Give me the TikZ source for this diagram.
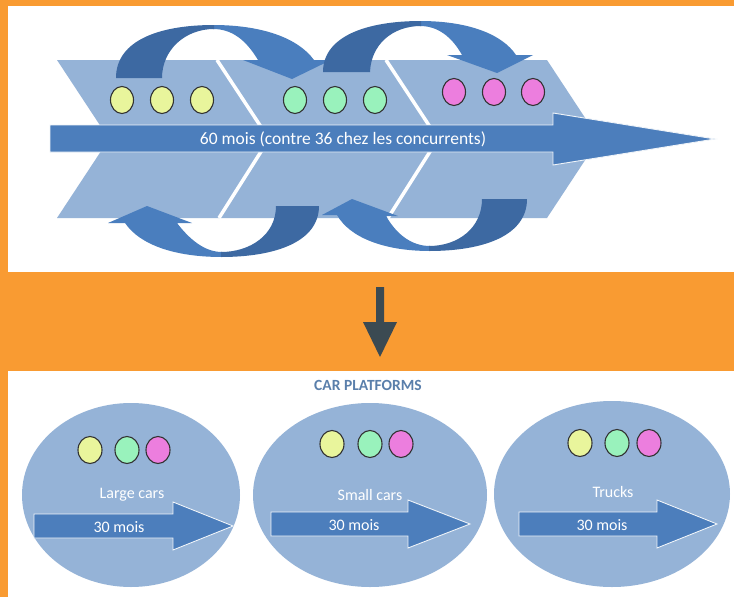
\documentclass[tikz,border=0pt]{standalone}
\usepackage{fontspec}
\setmainfont{Carlito}
\usetikzlibrary{shapes.geometric}

\definecolor{orangebg}{HTML}{F99B32}
\definecolor{chev}{HTML}{95B3D7}
\definecolor{bandlight}{HTML}{4A7EBE}
\definecolor{banddark}{HTML}{3D69A2}
\definecolor{arrowblue}{HTML}{4C7EBC}
\definecolor{dotyellow}{HTML}{E9F59C}
\definecolor{dotgreen}{HTML}{99F2BC}
\definecolor{dotpink}{HTML}{EC7EDE}
\definecolor{titleblue}{HTML}{5A7FAB}
\definecolor{downgray}{HTML}{3B4A52}

\tikzset{
  panel/.style={fill=white, draw=none},
  chevfill/.style={fill=chev, draw=none},
  sepline/.style={draw=white, line width=3.5pt},
  darkband/.style={fill=banddark, draw=none},
  lightband/.style={fill=bandlight, draw=none},
  flatarrow/.style={fill=arrowblue, draw=white!85!chev, line width=0.9pt, line join=miter},
  dot/.style={ellipse, draw=black!80, line width=1.1pt, inner sep=0pt,
              minimum width=23pt, minimum height=27pt},
  platform/.style={ellipse, fill=chev, draw=none, inner sep=0pt},
  whitetext/.style={text=white, font=\fontsize{16}{18}\selectfont, inner sep=0pt},
}

\begin{document}
\begin{tikzpicture}[x=1pt, y=-1pt]
  \useasboundingbox (0,0) rectangle (734,597);
  \fill[orangebg] (0,0) rectangle (734,597);

  % panels
  \fill[panel] (8,6) rectangle (734,272);
  \fill[panel] (8,371) rectangle (734,597);

  % ---------- top: chevron process ----------
  \fill[chevfill] (57,60) -- (547,60) -- (599,139) -- (547,218) -- (57,218) -- (109,139) -- cycle;
  \draw[sepline] (217,60) -- (269,139) -- (219,218);
  \draw[sepline] (386,60) -- (438,139) -- (388,218);

  % curved arrow, upper left
  \fill[lightband] (213,25) .. controls (262,25) and (298,38) .. (314,60)
     -- (331,60) -- (292,79) -- (243,60) -- (258,60)
     .. controls (246,40) and (232,29) .. (213,29) -- cycle;
  \fill[darkband] (116,78) .. controls (116,40) and (160,25) .. (214,25)
     -- (214,29) .. controls (185,29) and (162,50) .. (162,78) -- cycle;

  % curved arrow, upper right
  \fill[lightband] (420,21) .. controls (468,21) and (502,34) .. (516,55)
     -- (533,55) -- (497,73) -- (447,55) -- (462,55)
     .. controls (452,37) and (438,26) .. (420,26) -- cycle;
  \fill[darkband] (323,72) .. controls (323,36) and (367,21) .. (421,21)
     -- (421,26) .. controls (392,26) and (371,45) .. (370,72) -- cycle;

  % curved arrow, lower left
  \fill[lightband] (222,257) .. controls (175,257) and (140,245) .. (125,223)
     -- (108,223) -- (147,206) -- (192,223) -- (177,223)
     .. controls (190,240) and (205,252) .. (222,252) -- cycle;
  \fill[darkband] (319,206) .. controls (319,242) and (275,257) .. (221,257)
     -- (221,252) .. controls (250,252) and (276,235) .. (276,206) -- cycle;

  % curved arrow, lower right
  \fill[lightband] (430,251) .. controls (385,251) and (350,238) .. (337,215)
     -- (322,215) -- (352,199) -- (398,216) -- (386,216)
     .. controls (397,235) and (412,246) .. (430,246) -- cycle;
  \fill[darkband] (527,199) .. controls (527,236) and (483,251) .. (429,251)
     -- (429,246) .. controls (458,246) and (482,228) .. (482,199) -- cycle;

  % long time arrow
  \draw[flatarrow] (50,125) -- (553,125) -- (553,113) -- (715,139)
     -- (553,165) -- (553,152) -- (50,152) -- cycle;
  \node[whitetext, font=\fontsize{17.5}{20}\selectfont] (span) at (343,139)
     {60 mois (contre 36 chez les concurrents)};

  % model dots
  \node[dot, fill=dotyellow] (y1) at (122,100) {};
  \node[dot, fill=dotyellow] (y2) at (162,100) {};
  \node[dot, fill=dotyellow] (y3) at (202,100) {};
  \node[dot, fill=dotgreen]  (g1) at (295,100) {};
  \node[dot, fill=dotgreen]  (g2) at (335,100) {};
  \node[dot, fill=dotgreen]  (g3) at (375,100) {};
  \node[dot, fill=dotpink]   (p1) at (454,92) {};
  \node[dot, fill=dotpink]   (p2) at (494,92) {};
  \node[dot, fill=dotpink]   (p3) at (533,92) {};

  % ---------- transition arrow ----------
  \fill[downgray] (376,287) -- (384,287) -- (384,322) -- (397,322)
     -- (380,357) -- (363,322) -- (376,322) -- cycle;

  % ---------- bottom: platforms ----------
  \node[text=titleblue, font=\bfseries\fontsize{15.5}{18}\selectfont, inner sep=0pt]
     (title) at (368,385) {CAR PLATFORMS};

  \node[platform, minimum width=218pt, minimum height=184pt] (large) at (131,495) {};
  \node[platform, minimum width=234pt, minimum height=184pt] (small) at (370,495) {};
  \node[platform, minimum width=236pt, minimum height=186pt] (truck) at (612,494) {};

  % large cars
  \node[dot, minimum width=24pt, fill=dotyellow] (ly) at (90,450) {};
  \node[dot, minimum width=24pt, fill=dotgreen]  (lg) at (127,450) {};
  \node[dot, minimum width=24pt, fill=dotpink]   (lp) at (158,450) {};
  \node[whitetext] (llbl) at (132,495) {Large cars};
  \draw[flatarrow] (34,514) -- (173,514) -- (173,502) -- (233,526)
     -- (173,550) -- (173,538) -- (34,538) -- cycle;
  \node[whitetext] (lt) at (119,527) {30 mois};

  % small cars
  \node[dot, minimum width=24pt, fill=dotyellow] (sy) at (332,444) {};
  \node[dot, minimum width=24pt, fill=dotgreen]  (sg) at (370,444) {};
  \node[dot, minimum width=24pt, fill=dotpink]   (sp) at (401,444) {};
  \node[whitetext] (slbl) at (370,495) {Small cars};
  \draw[flatarrow] (271,512) -- (408,512) -- (408,500) -- (470,524)
     -- (408,548) -- (408,536) -- (271,536) -- cycle;
  \node[whitetext] (st) at (354,525) {30 mois};

  % trucks
  \node[dot, minimum width=24pt, fill=dotyellow] (ty) at (580,443) {};
  \node[dot, minimum width=24pt, fill=dotgreen]  (tg) at (617,443) {};
  \node[dot, minimum width=24pt, fill=dotpink]   (tp) at (649,443) {};
  \node[whitetext] (tlbl) at (613,492) {Trucks};
  \draw[flatarrow] (519,512) -- (657,512) -- (657,500) -- (717,524)
     -- (657,548) -- (657,536) -- (519,536) -- cycle;
  \node[whitetext] (tt) at (602,525) {30 mois};
\end{tikzpicture}
\end{document}
